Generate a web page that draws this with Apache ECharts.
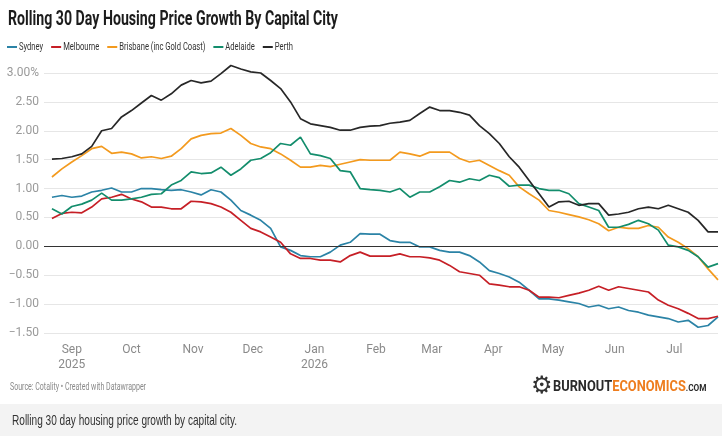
<!DOCTYPE html>
<html>
<head>
<meta charset="utf-8">
<script src="https://cdn.jsdelivr.net/npm/echarts@6.0.0/dist/echarts.min.js"></script>
<style>
  html, body { margin: 0; padding: 0; background: #fff; }
  #chart { width: 722px; height: 436px; }
</style>
</head>
<body>
<div id="chart"></div>
<script>
// values, one point every 5 days from 22 Aug 2025
const cities = ['Sydney', 'Melbourne', 'Brisbane (inc Gold Coast)', 'Adelaide', 'Perth'];
const colors = ['#2b83a6', '#c61f26', '#f39a1e', '#138d6c', '#272727'];

const sydney = [0.85, 0.88, 0.85, 0.87, 0.94, 0.97, 1.01, 0.94, 0.94, 1.00, 1.00, 0.98, 0.97, 0.98, 0.94, 0.89,
  0.98, 0.94, 0.80, 0.62, 0.54, 0.45, 0.31, -0.01, -0.07, -0.16, -0.18, -0.18, -0.10, 0.02, 0.07, 0.22,
  0.21, 0.21, 0.10, 0.07, 0.07, -0.01, -0.01, -0.07, -0.10, -0.10, -0.16, -0.27, -0.42, -0.47, -0.53, -0.62,
  -0.76, -0.91, -0.91, -0.93, -0.96, -0.99, -1.05, -1.02, -1.08, -1.05, -1.11, -1.14, -1.19, -1.22, -1.25, -1.31,
  -1.28, -1.40, -1.37, -1.22];
const melbourne = [0.48, 0.57, 0.59, 0.58, 0.68, 0.82, 0.85, 0.90, 0.82, 0.77, 0.68, 0.68, 0.65, 0.65, 0.78, 0.77,
  0.74, 0.68, 0.59, 0.45, 0.31, 0.25, 0.16, 0.07, -0.13, -0.21, -0.21, -0.24, -0.24, -0.27, -0.16, -0.10,
  -0.17, -0.17, -0.17, -0.13, -0.18, -0.18, -0.20, -0.24, -0.33, -0.44, -0.47, -0.50, -0.65, -0.67, -0.70, -0.70,
  -0.76, -0.88, -0.88, -0.89, -0.85, -0.81, -0.76, -0.69, -0.76, -0.70, -0.73, -0.76, -0.79, -0.93, -1.02, -1.08,
  -1.16, -1.25, -1.25, -1.21];
const brisbane = [1.20, 1.34, 1.46, 1.57, 1.69, 1.73, 1.61, 1.63, 1.60, 1.53, 1.55, 1.52, 1.56, 1.69, 1.86, 1.92,
  1.95, 1.96, 2.04, 1.92, 1.78, 1.72, 1.69, 1.60, 1.49, 1.37, 1.37, 1.40, 1.38, 1.42, 1.46, 1.50,
  1.49, 1.49, 1.49, 1.63, 1.60, 1.56, 1.63, 1.63, 1.63, 1.52, 1.46, 1.49, 1.40, 1.31, 1.23, 1.03,
  0.91, 0.80, 0.62, 0.59, 0.55, 0.51, 0.46, 0.39, 0.27, 0.33, 0.31, 0.31, 0.36, 0.33, 0.16, 0.07,
  -0.04, -0.18, -0.39, -0.58];
const adelaide = [0.65, 0.56, 0.69, 0.73, 0.80, 0.92, 0.80, 0.80, 0.82, 0.85, 0.90, 0.91, 1.06, 1.14, 1.29, 1.26,
  1.27, 1.37, 1.23, 1.34, 1.49, 1.52, 1.62, 1.78, 1.75, 1.89, 1.60, 1.57, 1.52, 1.31, 1.29, 1.00,
  0.98, 0.97, 0.94, 1.00, 0.85, 0.94, 0.94, 1.03, 1.14, 1.11, 1.17, 1.14, 1.23, 1.19, 1.04, 1.06,
  1.06, 1.00, 0.97, 0.97, 0.91, 0.74, 0.68, 0.62, 0.33, 0.33, 0.38, 0.45, 0.39, 0.28, 0.02, -0.01,
  -0.07, -0.18, -0.36, -0.30];
const perth = [1.51, 1.52, 1.55, 1.60, 1.73, 2.00, 2.04, 2.24, 2.35, 2.48, 2.61, 2.53, 2.64, 2.79, 2.87, 2.83,
  2.86, 2.99, 3.13, 3.07, 3.02, 3.00, 2.87, 2.73, 2.50, 2.21, 2.12, 2.09, 2.06, 2.01, 2.01, 2.06,
  2.08, 2.09, 2.13, 2.15, 2.18, 2.30, 2.41, 2.35, 2.35, 2.32, 2.27, 2.09, 1.95, 1.78, 1.55, 1.37,
  1.14, 0.91, 0.68, 0.77, 0.78, 0.71, 0.74, 0.74, 0.54, 0.56, 0.59, 0.65, 0.68, 0.65, 0.71, 0.65,
  0.59, 0.45, 0.25, 0.25];

const monthNames = ['Jan', 'Feb', 'Mar', 'Apr', 'May', 'Jun', 'Jul', 'Aug', 'Sep', 'Oct', 'Nov', 'Dec'];
const yearMonths = { '2025-8': '2025', '2026-0': '2026' }; // months that also show the year

const DAY = 86400000;
const startDate = new Date(2025, 7, 22).getTime();
const stepDays = 5;
const dates = perth.map((_, i) => startDate + i * stepDays * DAY);

const titleText = 'Rolling 30 Day Housing Price Growth By Capital City';
const sourceText = 'Source: Cotality \u2022 Created with Datawrapper';
const captionText = 'Rolling 30 day housing price growth by capital city.';

// squeeze text to the width it has in the picture (the original uses a condensed face)
const measure = document.createElement('canvas').getContext('2d');
function textWidth(text, font) {
  measure.font = font;
  return measure.measureText(text).width;
}
function fitScale(text, font, width) {
  return width / textWidth(text, font);
}

const titleFont = 'bold 20px Roboto';
const sourceFont = '10px Roboto';
const captionFont = '15px "Liberation Sans"';
const logoFont = 'bold 14px Roboto';
const legendFont = '11px Roboto';

// legend drawn as graphic so it can be condensed like the original
const legendTextTotal = cities.reduce((s, c) => s + textWidth(c, legendFont), 0);
const legendScale = 194 / legendTextTotal;
const legendItems = [];
let cursor = 7;
cities.forEach((name, k) => {
  legendItems.push({
    type: 'rect', shape: { x: cursor, y: 46, width: 10, height: 2 },
    style: { fill: colors[k] }, silent: true
  });
  legendItems.push({
    type: 'text', x: cursor + 12, y: 47, scaleX: legendScale,
    style: { text: name, font: legendFont, fill: '#333', verticalAlign: 'middle' }
  });
  cursor += 12 + textWidth(name, legendFont) * legendScale + 8;
});

const seriesData = [sydney, melbourne, brisbane, adelaide, perth];

const chart = echarts.init(document.getElementById('chart'), null, { renderer: 'canvas' });
chart.setOption({
  animation: false,
  color: colors,
  textStyle: { fontFamily: 'Roboto' },
  grid: { left: 44, right: 4, top: 73, bottom: 103 },
  xAxis: {
    type: 'time',
    min: new Date(2025, 7, 18).getTime(),
    max: new Date(2026, 6, 23).getTime(),
    minInterval: 28 * DAY,
    maxInterval: 31 * DAY,
    axisLine: { show: false },
    axisTick: { show: false },
    splitLine: { show: false },
    axisLabel: {
      color: '#8a8a8a',
      fontSize: 12,
      lineHeight: 15,
      margin: 9,
      showMinLabel: false,
      showMaxLabel: false,
      formatter: function (val) {
        const d = new Date(val);
        const y = yearMonths[d.getFullYear() + '-' + d.getMonth()];
        return monthNames[d.getMonth()] + (y ? '\n' + y : '');
      }
    }
  },
  yAxis: {
    type: 'value',
    min: -1.5,
    max: 3,
    interval: 0.5,
    axisLine: { show: false },
    axisTick: { show: false },
    splitLine: { lineStyle: { color: '#e6e6e6', width: 1 } },
    axisLabel: {
      color: '#9a9a9a',
      fontSize: 12,
      margin: 5,
      formatter: function (v) {
        const s = (v < 0 ? '\u2212' : '') + Math.abs(v).toFixed(2);
        return v === 3 ? s + '%' : s;
      }
    }
  },
  series: seriesData.map((vals, k) => ({
    name: cities[k],
    type: 'line',
    showSymbol: false,
    clip: false,
    lineStyle: { width: 1.7, color: colors[k] },
    itemStyle: { color: colors[k] },
    emphasis: { disabled: true },
    data: vals.map((v, i) => [dates[i], v]),
    markLine: k === 0 ? {
      silent: true,
      symbol: 'none',
      label: { show: false },
      lineStyle: { color: '#333', width: 1.2, type: 'solid' },
      data: [{ yAxis: 0 }]
    } : undefined
  })),
  graphic: legendItems.concat([
    {
      type: 'text', x: 8, y: 19.5, scaleX: fitScale(titleText, titleFont, 330),
      style: { text: titleText, font: titleFont, fill: '#1c1c1c', verticalAlign: 'middle' }
    },
    {
      type: 'text', x: 10, y: 387, scaleX: fitScale(sourceText, sourceFont, 136),
      style: { text: sourceText, font: sourceFont, fill: '#8a8a8a', verticalAlign: 'middle' }
    },
    {
      type: 'text', x: 531, y: 387,
      style: { text: '\u2699', font: '24px "DejaVu Sans"', fill: '#333', verticalAlign: 'middle' }
    },
    {
      type: 'text', x: 553, y: 387, scaleX: fitScale('BURNOUTECONOMICS.COM', logoFont, 165),
      style: {
        text: '{a|BURNOUT}{b|ECONOMICS}{c|.COM}',
        font: logoFont,
        verticalAlign: 'middle',
        rich: {
          a: { font: logoFont, fill: '#2a2a2a' },
          b: { font: logoFont, fill: '#ee7d1e' },
          c: { font: 'bold 9px Roboto', fill: '#2a2a2a', padding: [3, 0, 0, 0] }
        }
      }
    },
    {
      type: 'rect', shape: { x: 0, y: 404, width: 722, height: 32 },
      style: { fill: '#f3f3f3' }, silent: true
    },
    {
      type: 'text', x: 12, y: 420.5, scaleX: fitScale(captionText, captionFont, 225),
      style: { text: captionText, font: captionFont, fill: '#333', verticalAlign: 'middle' }
    }
  ])
});
</script>
</body>
</html>
